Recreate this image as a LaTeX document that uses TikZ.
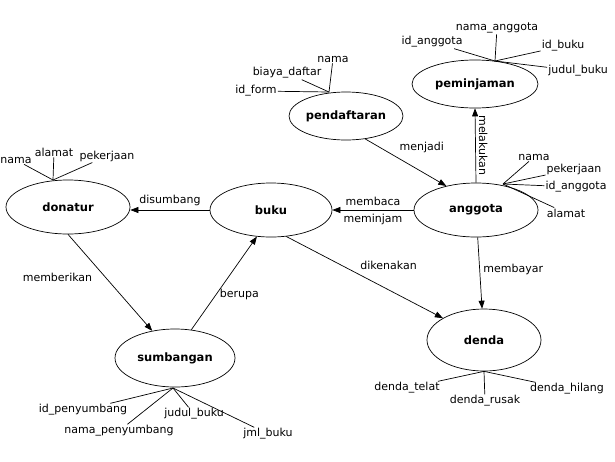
\documentclass[tikz,border=0pt]{standalone}
\usepackage{fontspec}
\setmainfont{DejaVu Sans}
\usetikzlibrary{shapes.geometric,arrows.meta}
\begin{document}
\begin{tikzpicture}[
        x=1pt, y=-1pt,
        every node/.style={font=\fontsize{11}{13}\selectfont},
        entity/.style={draw, ellipse, inner sep=0pt, line width=0.7pt, font=\fontsize{11.5}{13}\selectfont\bfseries},
        attr/.style={inner sep=1pt},
        rel/.style={draw, -{Triangle[length=8pt,width=6pt]}, line width=0.7pt},
        link/.style={draw, line width=0.7pt},
    ]
    \useasboundingbox (0,0) rectangle (615,461);
    % entitas
    \node[entity, minimum width=126pt, minimum height=48pt] (peminjaman) at (475,84) {peminjaman};
    \node[entity, minimum width=114pt, minimum height=48pt] (pendaftaran) at (346,116) {pendaftaran};
    \node[entity, minimum width=124pt, minimum height=54pt] (donatur) at (68,207) {donatur};
    \node[entity, minimum width=122pt, minimum height=54pt] (buku) at (271,210) {buku};
    \node[entity, minimum width=124pt, minimum height=54pt] (anggota) at (476,210) {anggota};
    \node[entity, minimum width=120pt, minimum height=58pt] (sumbangan) at (175,358) {sumbangan};
    \node[entity, minimum width=114pt, minimum height=62pt] (denda) at (484,340) {denda};

    % relasi
    \draw[rel] (buku.west) -- node[above, inner sep=4pt]{disumbang} (buku.west -| donatur.east);
    \draw[rel] (anggota) -- node[above, inner sep=4pt]{membaca} node[below, inner sep=4pt]{meminjam} (buku);
    \draw[rel] (pendaftaran.-50) -- node[above right, pos=0.38]{menjadi} (anggota.141);
    \draw[rel] (anggota.north) -- node[midway, anchor=south, rotate=-90, inner sep=3pt]{melakukan} (peminjaman.south);
    \draw[rel] (anggota) -- node[right, pos=0.45]{membayar} (denda);
    \draw[rel] (buku.-60) -- node[above right, pos=0.45]{dikenakan} (denda.152);
    \draw[rel] (donatur.south) -- node[left, pos=0.45, xshift=-10pt]{memberikan} (sumbangan.130);
    \draw[rel] (sumbangan.60) -- node[right, pos=0.38]{berupa} (buku.-118);

    % atribut peminjaman
    \coordinate (pjoin) at (495,61);
    \node[attr] (pnamaang) at (497,28) {nama\_anggota};
    \node[attr] (pidang) at (432,42) {id\_anggota};
    \node[attr] (pidbuku) at (563,46) {id\_buku};
    \node[attr] (pjudul) at (578,71) {judul\_buku};
    \foreach \a in {pnamaang,pidang,pidbuku,pjudul}
        \draw[link] (\a) -- (pjoin);

    % atribut pendaftaran
    \coordinate (djoin) at (329,92);
    \node[attr] (dnama) at (333,59) {nama};
    \node[attr] (dbiaya) at (287,73) {biaya\_daftar};
    \node[attr] (didform) at (256,91) {id\_form};
    \foreach \a in {dnama,dbiaya,didform}
        \draw[link] (\a) -- (djoin);

    % atribut donatur
    \coordinate (njoin) at (53,180);
    \node[attr] (nnama) at (16,160) {nama};
    \node[attr] (nalamat) at (54,152) {alamat};
    \node[attr] (nkerja) at (107,156) {pekerjaan};
    \foreach \a in {nnama,nalamat,nkerja}
        \draw[link] (\a) -- (njoin);

    % atribut anggota
    \coordinate (ajoin) at (503,184);
    \node[attr] (anama) at (534,157) {nama};
    \node[attr] (akerja) at (574,169) {pekerjaan};
    \node[attr] (aidang) at (576,187) {id\_anggota};
    \node[attr] (aalamat) at (566,213) {alamat};
    \foreach \a in {anama,akerja,aidang,aalamat}
        \draw[link] (\a) -- (ajoin);

    % atribut sumbangan
    \coordinate (sjoin) at (173,388);
    \node[attr] (sidpen) at (83,410) {id\_penyumbang};
    \node[attr] (snamapen) at (119,431) {nama\_penyumbang};
    \node[attr] (sjudul) at (194,414) {judul\_buku};
    \node[attr] (sjml) at (268,434) {jml\_buku};
    \foreach \a in {sidpen,snamapen,sjudul,sjml}
        \draw[link] (\a) -- (sjoin);

    % atribut denda
    \node[attr] (dtelat) at (407,388) {denda\_telat};
    \node[attr] (drusak) at (485,401) {denda\_rusak};
    \node[attr] (dhilang) at (567,389) {denda\_hilang};
    \foreach \a in {dtelat,drusak,dhilang}
        \draw[link] (\a) -- (denda.south);
\end{tikzpicture}
\end{document}
